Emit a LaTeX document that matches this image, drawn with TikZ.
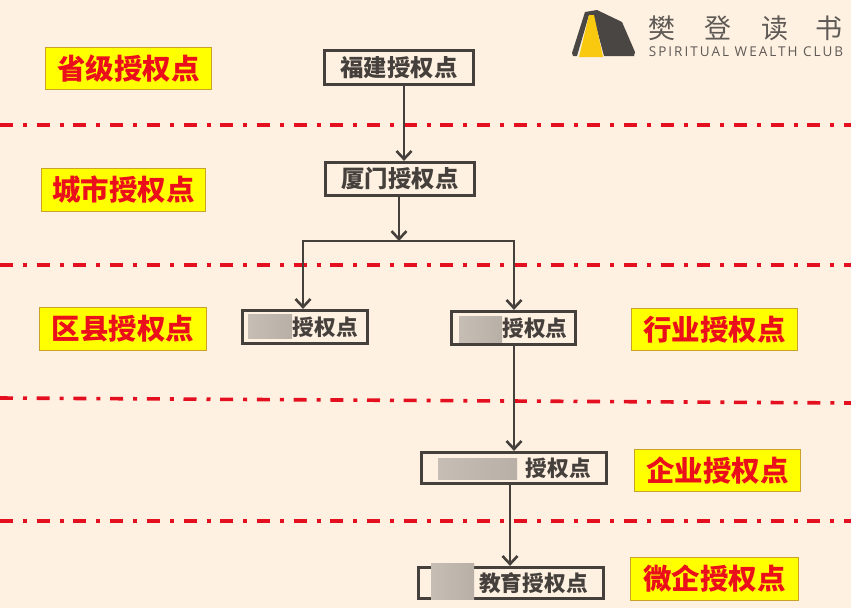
\documentclass[tikz,border=0pt]{standalone}
\usepackage{fontspec}
\usetikzlibrary{arrows.meta}
\setmainfont{Noto Sans CJK SC}
\newfontfamily\latinlogo[LetterSpace=15]{Open Sans}
\definecolor{bgc}{HTML}{FEF1E2}
\definecolor{ink}{HTML}{45403C}
\definecolor{redl}{HTML}{E5101F}
\definecolor{labred}{HTML}{EA0F1B}
\definecolor{labyel}{HTML}{FFFF00}
\definecolor{labedge}{HTML}{C9A227}
\definecolor{blura}{HTML}{C6BEB4}
\definecolor{blurb}{HTML}{B8B0A6}
\definecolor{logod}{HTML}{4A4643}
\definecolor{logoy}{HTML}{F9C910}
\definecolor{logot}{HTML}{5F5A55}
\tikzset{
  levellabel/.style={draw=labedge,line width=0.8pt,fill=labyel,text=labred,font=\fontsize{28.5}{30}\selectfont\bfseries,inner sep=0pt},
  authbox/.style={draw=ink,line width=2.7pt,fill=bgc,text=ink,font=\fontsize{23.4}{25}\selectfont\bfseries,inner sep=0pt},
  authsmall/.style={authbox,font=\fontsize{21.7}{24}\selectfont\bfseries},
  levelline/.style={draw=redl,line width=3.6pt,dash pattern=on 13pt off 10pt on 4pt off 9.7pt},
  conn/.style={draw=ink,line width=2.8pt},
  connarrow/.style={conn,-{Straight Barb[length=8pt,width=15pt,line width=2.6pt]}},
  logochar/.style={text=logot,font=\fontsize{27}{29}\selectfont,inner sep=0pt},
}
\newcommand{\blurat}[4]{%
  \shade[left color=blura,right color=blurb] (#1,#2) rectangle (#3,#4);
}
\begin{document}
\begin{tikzpicture}[x=1pt,y=-1pt]
\useasboundingbox (0,0) rectangle (851,608);
\fill[bgc] (0,0) rectangle (851,608);
% level lines
\coordinate (l1a) at (0,125); \coordinate (l1b) at (851,125);
\coordinate (l2a) at (0,265); \coordinate (l2b) at (851,265);
\coordinate (l3a) at (0,398); \coordinate (l3b) at (851,403);
\coordinate (l4a) at (0,521); \coordinate (l4b) at (851,521);
\draw[levelline] (l1a) -- (l1b);
\draw[levelline] (l2a) -- (l2b);
\draw[levelline] (l3a) -- (l3b);
\draw[levelline] (l4a) -- (l4b);
% labels
\node[levellabel,minimum width=166pt,minimum height=42pt] (lab1) at (128.5,68.5) {省级授权点};
\node[levellabel,minimum width=164pt,minimum height=43pt] (lab2) at (123.5,190) {城市授权点};
\node[levellabel,minimum width=167pt,minimum height=43pt] (lab3) at (123,329) {区县授权点};
\node[levellabel,minimum width=166pt,minimum height=42pt] (lab4) at (714.5,329.5) {行业授权点};
\node[levellabel,minimum width=166pt,minimum height=42pt] (lab5) at (717.5,470.5) {企业授权点};
\node[levellabel,minimum width=168pt,minimum height=43pt] (lab6) at (714.5,579) {微企授权点};
% connector junctions
\coordinate (busm) at (399,241);
\coordinate (busl) at (303,241);
\coordinate (busr) at (514,241);
% boxes
\node[authbox,minimum width=149pt,minimum height=34.5pt] (fj) at (399,67.5) {福建授权点};
\node[authbox,minimum width=149pt,minimum height=33.5pt] (xm) at (400,179) {厦门授权点};
\node[authsmall,minimum width=125.5pt,minimum height=33.5pt] (qx) at (305,327) {\hspace*{41pt}授权点};
\node[authsmall,minimum width=124.5pt,minimum height=33.5pt] (hy) at (513.5,328) {\hspace*{43pt}授权点};
\node[authsmall,minimum width=185.5pt,minimum height=31.5pt] (qy) at (514,468) {\hspace*{89pt}授权点};
\node[authsmall,minimum width=185.5pt,minimum height=31.5pt] (wq) at (511,583) {\hspace*{45pt}教育授权点};
% connectors
\coordinate (c1) at (404,0);
\coordinate (c2) at (510,0);
\draw[connarrow] (fj.south -| c1) -- (xm.north -| c1);
\draw[conn,line cap=rect] (busl) -- (busr);
\draw[connarrow] (xm.south -| busm) -- (busm);
\draw[connarrow] (busl) -- (qx.north -| busl);
\draw[connarrow] (busr) -- (hy.north -| busr);
\draw[connarrow] (hy.south -| busr) -- (qy.north -| busr);
\draw[connarrow] (qy.south -| c2) -- (wq.north -| c2);
% blurred parts
\blurat{248}{314}{292}{338}
\blurat{459}{316}{502}{342}
\blurat{438}{458}{517}{479}
\blurat{431}{563}{474}{599}
% logo
\fill[logod] (585,12) -- (597,10) -- (622,22) -- (635,52) -- (634,56) -- (604,56) -- (593,15) -- (589,15) -- (577,56) -- (573,56) -- (572,53) -- cycle;
\fill[logoy] (589,15) -- (594,15) -- (603,57) -- (579,57) -- cycle;
\node[logochar] (lg1) at (662,28) {樊};
\node[logochar] (lg2) at (718,28) {登};
\node[logochar] (lg3) at (775,28) {读};
\node[logochar] (lg4) at (829,28) {书};
\node[text=logot,font=\fontsize{13.5}{15}\latinlogo,inner sep=0pt] (lgt) at (746,51.5) {SPIRITUAL WEALTH CLUB};
\end{tikzpicture}
\end{document}
